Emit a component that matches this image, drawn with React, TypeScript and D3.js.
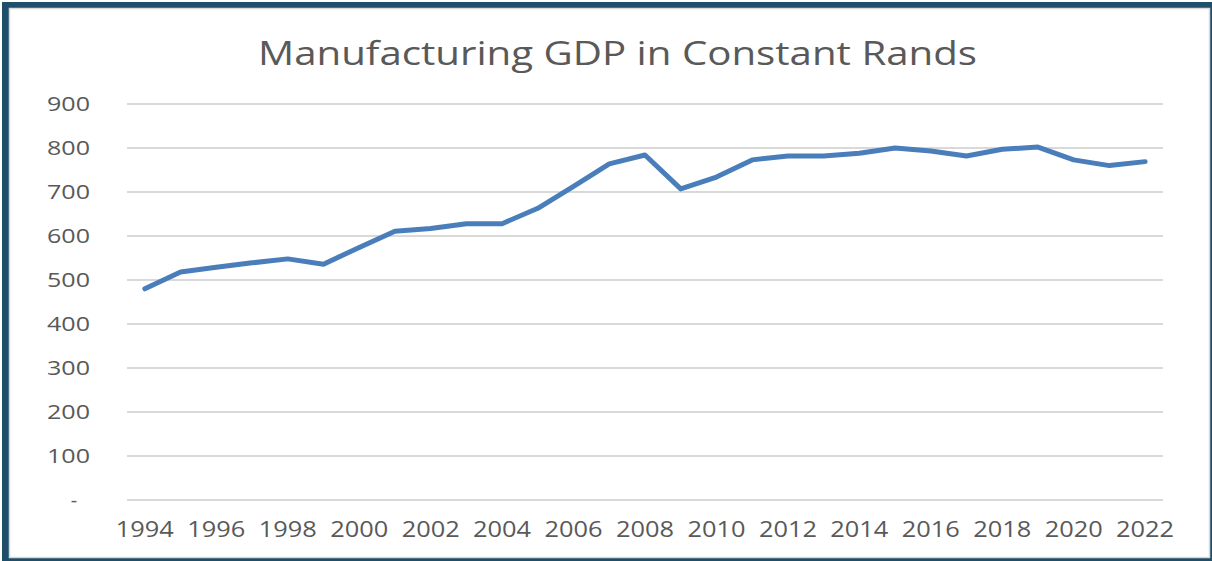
import React from "react";
import * as d3 from "d3";

const years: number[] = [
  1994, 1995, 1996, 1997, 1998, 1999, 2000, 2001, 2002, 2003, 2004, 2005, 2006, 2007, 2008,
  2009, 2010, 2011, 2012, 2013, 2014, 2015, 2016, 2017, 2018, 2019, 2020, 2021, 2022,
];
const gdpValues: number[] = [
  480, 518, 529, 539, 548, 536, 574, 611, 617, 628, 628, 663, 713, 764, 784,
  707, 734, 773, 782, 782, 788, 800, 793, 782, 797, 802, 773, 760, 769,
];
const yTicks: number[] = [0, 100, 200, 300, 400, 500, 600, 700, 800, 900];
const xTickLabels: number[] = [1994, 1996, 1998, 2000, 2002, 2004, 2006, 2008, 2010, 2012, 2014, 2016, 2018, 2020, 2022];
const title = "Manufacturing GDP in Constant Rands";

const W = 1212;
const H = 561;
const plotLeft = 127;
const plotRight = 1163;
const plotTop = 104;
const plotBottom = 500;
const FONT = "'Open Sans', 'DejaVu Sans', sans-serif";
const TEXT = "#595959";

export default function App() {
  const x = d3
    .scaleBand<number>()
    .domain(years)
    .range([plotLeft, plotRight])
    .padding(0);
  const y = d3.scaleLinear().domain([0, 900]).range([plotBottom, plotTop]);
  const cx = (yr: number) => (x(yr) as number) + x.bandwidth() / 2;

  const line = d3
    .line<number>()
    .x((_, i) => cx(years[i]))
    .y((d) => y(d));

  return (
    <div style={{ position: "fixed", left: 0, top: 0 }}>
      <svg width={W} height={H} style={{ display: "block" }}>
        <rect x={0} y={0} width={W} height={H} fill="#ffffff" />
        <rect x={2} y={2} width={W + 20} height={H + 20} fill="#1F4E6A" />
        <rect x={9.5} y={8.5} width={1200} height={549} fill="#ffffff" stroke="#d9d9d9" strokeWidth={1.5} />
        <text
          x={258}
          y={65}
          fontFamily={FONT}
          fontSize={32}
          fill={TEXT}
          textLength={719}
          lengthAdjust="spacingAndGlyphs"
        >
          {title}
        </text>
        {yTicks.map((t) => (
          <line
            key={"g" + t}
            x1={plotLeft}
            x2={plotRight}
            y1={y(t)}
            y2={y(t)}
            stroke="#d9d9d9"
            strokeWidth={1.8}
          />
        ))}
        {yTicks.map((t) =>
          t === 0 ? (
            <text key={"yl" + t} x={74} y={y(t) + 7} fontFamily={FONT} fontSize={20} fill={TEXT} textAnchor="middle">
              -
            </text>
          ) : (
            <text
              key={"yl" + t}
              x={90}
              y={y(t) + 7}
              fontFamily={FONT}
              fontSize={20}
              fill={TEXT}
              textAnchor="end"
              textLength={43}
              lengthAdjust="spacingAndGlyphs"
            >
              {String(t)}
            </text>
          )
        )}
        {xTickLabels.map((yr) => (
          <text
            key={"xl" + yr}
            x={cx(yr)}
            y={537}
            fontFamily={FONT}
            fontSize={21}
            fill={TEXT}
            textAnchor="middle"
            textLength={58}
            lengthAdjust="spacingAndGlyphs"
          >
            {String(yr)}
          </text>
        ))}
        <path
          d={line(gdpValues) || ""}
          fill="none"
          stroke="#4A7EBB"
          strokeWidth={5}
          strokeLinejoin="round"
          strokeLinecap="round"
        />
      </svg>
    </div>
  );
}
